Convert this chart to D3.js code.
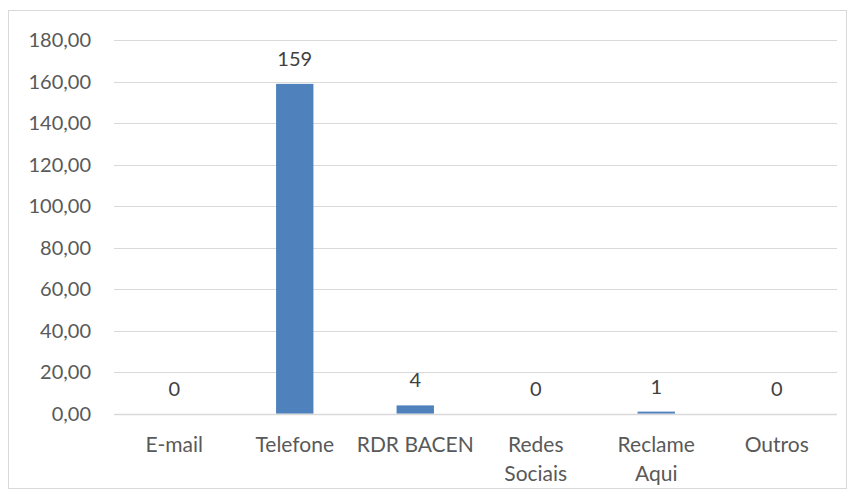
<!DOCTYPE html>
<html><head><meta charset="utf-8">
<script src="https://cdn.jsdelivr.net/npm/d3@7"></script>
<style>body{margin:0;background:#fff;} text{font-family:Lato, "Open Sans", sans-serif;}</style>
</head><body><svg id="c" width="856" height="497"></svg>
<script>
const categories = ["E-mail","Telefone","RDR BACEN","Redes Sociais","Reclame Aqui","Outros"];
const values = [0,159,4,0,1,0];
const yTicks = [0,20,40,60,80,100,120,140,160,180];

(function(){
const svg = d3.select("#c");
svg.append("rect").attr("x",8.5).attr("y",10.5).attr("width",838).attr("height",478)
  .attr("fill","#fff").attr("stroke","#d9d9d9").attr("stroke-width",1);

const pL=114, pR=837, pT=40.3, pB=413.7;
const x = d3.scaleBand().domain(categories).range([pL,pR]).paddingInner(0.69).paddingOuter(0.345);
const y = d3.scaleLinear().domain([0,180]).range([pB,pT]);

const grid = svg.append("g");
grid.selectAll("line").data(yTicks).join("line")
  .attr("x1",pL).attr("x2",pR)
  .attr("y1",d=>Math.round(y(d))+0.5).attr("y2",d=>Math.round(y(d))+0.5)
  .attr("stroke","#d9d9d9").attr("stroke-width",1);

const fmt = d => d3.format(".2f")(d).replace(".",",");
const yAxis = d3.axisLeft(y).tickValues(yTicks).tickFormat(fmt).tickSize(0).tickPadding(0);
const ya = svg.append("g").attr("transform",`translate(91,0)`).call(yAxis);
ya.select(".domain").remove();
ya.selectAll("text").attr("fill","#595959").style("font-size","20px").style("font-family","Lato, 'Open Sans', sans-serif");

svg.append("g").selectAll("rect").data(values).join("rect")
  .attr("x",(d,i)=>x(categories[i])).attr("width",x.bandwidth())
  .attr("y",d=>y(d)).attr("height",d=>pB-y(d))
  .attr("fill","#4f81bd");

svg.append("line").attr("x1",pL).attr("x2",pR).attr("y1",Math.round(pB)+0.5).attr("y2",Math.round(pB)+0.5)
  .attr("stroke","#d9d9d9").attr("stroke-width",1.5);

svg.append("g").selectAll("text").data(values).join("text")
  .attr("x",(d,i)=>x(categories[i])+x.bandwidth()/2)
  .attr("y",d=>y(d)-18)
  .attr("text-anchor","middle").attr("fill","#404040").style("font-size","20px")
  .text(d=>d);

const xa = svg.append("g");
categories.forEach((c,i)=>{
  const words = c==="RDR BACEN" ? [c] : c.split(" ");
  const t = xa.append("text").attr("x",x(c)+x.bandwidth()/2).attr("y",452)
    .attr("text-anchor","middle").attr("fill","#595959").style("font-size","21px");
  words.forEach((w,j)=>t.append("tspan").attr("x",x(c)+x.bandwidth()/2).attr("dy",j?29:0).text(w));
});
})();
</script></body></html>
